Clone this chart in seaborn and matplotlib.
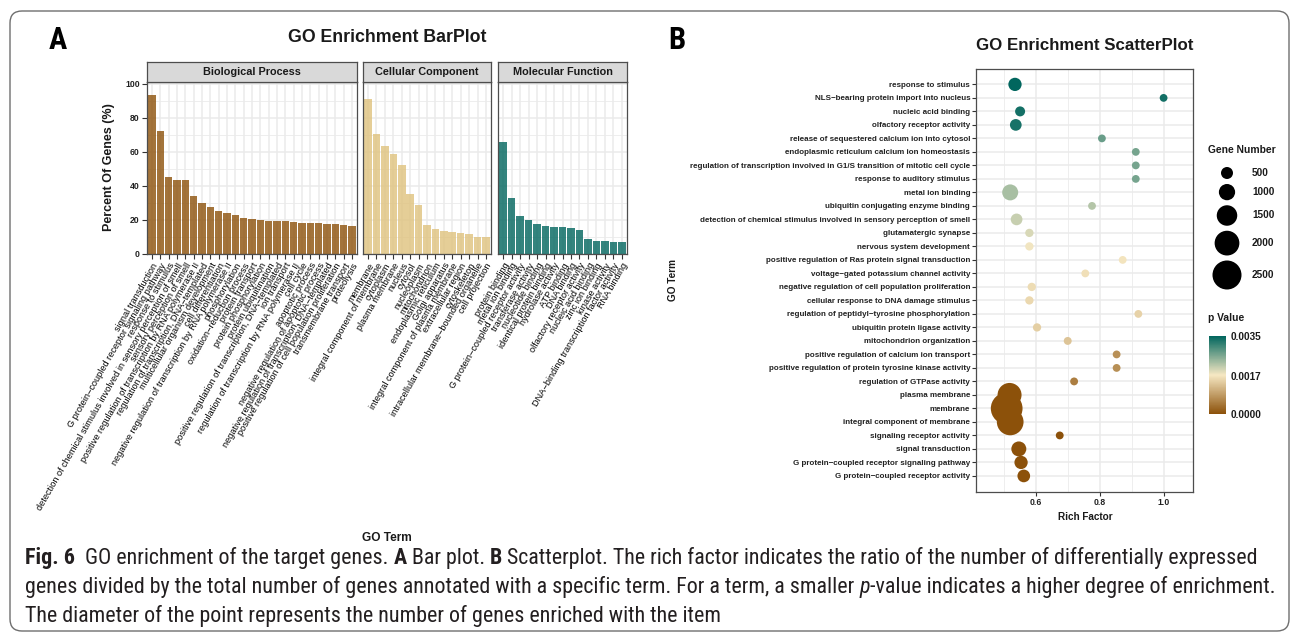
import matplotlib
matplotlib.use("Agg")
import numpy as np
import pandas as pd
import matplotlib.pyplot as plt
from matplotlib import font_manager
from matplotlib.colors import LinearSegmentedColormap, Normalize
from matplotlib.cm import ScalarMappable
from matplotlib.patches import FancyBboxPatch
from matplotlib.transforms import IdentityTransform
import seaborn as sns

# ---------------- Panel A: percent of genes per GO term ----------------
bp_terms = [
    "signal transduction",
    "G protein\u2212coupled receptor signaling pathway",
    "response to stimulus",
    "detection of chemical stimulus involved in sensory perception of smell",
    "sensory perception of smell",
    "positive regulation of transcription by RNA polymerase II",
    "regulation of transcription, DNA\u2212templated",
    "multicellular organism development",
    "cell differentiation",
    "negative regulation of transcription by RNA polymerase II",
    "phosphorylation",
    "oxidation\u2212reduction process",
    "protein transport",
    "protein phosphorylation",
    "protein ubiquitination",
    "positive regulation of transcription, DNA\u2212templated",
    "ion transport",
    "regulation of transcription by RNA polymerase II",
    "cell cycle",
    "apoptotic process",
    "negative regulation of apoptotic process",
    "negative regulation of transcription, DNA\u2212templated",
    "positive regulation of cell population proliferation",
    "transmembrane transport",
    "proteolysis",
]
bp_percent = [93.1, 72.0, 45.5, 43.3, 43.3, 34.3, 30.0, 27.6, 25.3, 24.1, 22.7,
              21.2, 20.6, 20.0, 19.4, 19.2, 19.2, 18.8, 18.0, 18.0, 18.0, 17.8,
              17.6, 17.3, 16.7]

cc_terms = [
    "membrane",
    "integral component of membrane",
    "cytoplasm",
    "plasma membrane",
    "nucleus",
    "cytosol",
    "nucleoplasm",
    "mitochondrion",
    "endoplasmic reticulum",
    "Golgi apparatus",
    "integral component of plasma membrane",
    "extracellular region",
    "cytoskeleton",
    "intracellular membrane\u2212bounded organelle",
    "cell projection",
]
cc_percent = [90.8, 70.6, 63.5, 58.6, 52.0, 35.3, 28.8, 16.9, 14.9, 13.7, 12.9,
              12.4, 11.8, 10.2, 10.2]

mf_terms = [
    "protein binding",
    "metal ion binding",
    "G protein\u2212coupled receptor activity",
    "transferase activity",
    "nucleotide binding",
    "identical protein binding",
    "hydrolase activity",
    "ATP binding",
    "DNA binding",
    "olfactory receptor activity",
    "nucleic acid binding",
    "zinc ion binding",
    "kinase activity",
    "DNA\u2212binding transcription factor activity",
    "RNA binding",
]
mf_percent = [65.7, 33.1, 22.5, 20.2, 17.8, 16.3, 15.7, 15.7, 15.1, 14.1, 8.8,
              7.6, 7.6, 7.3, 7.3]

# ---------------- Panel B: enrichment scatter ----------------
scatter_terms = [
    "response to stimulus",
    "NLS\u2212bearing protein import into nucleus",
    "nucleic acid binding",
    "olfactory receptor activity",
    "release of sequestered calcium ion into cytosol",
    "endoplasmic reticulum calcium ion homeostasis",
    "regulation of transcription involved in G1/S transition of mitotic cell cycle",
    "response to auditory stimulus",
    "metal ion binding",
    "ubiquitin conjugating enzyme binding",
    "detection of chemical stimulus involved in sensory perception of smell",
    "glutamatergic synapse",
    "nervous system development",
    "positive regulation of Ras protein signal transduction",
    "voltage\u2212gated potassium channel activity",
    "negative regulation of cell population proliferation",
    "cellular response to DNA damage stimulus",
    "regulation of peptidyl\u2212tyrosine phosphorylation",
    "ubiquitin protein ligase activity",
    "mitochondrion organization",
    "positive regulation of calcium ion transport",
    "positive regulation of protein tyrosine kinase activity",
    "regulation of GTPase activity",
    "plasma membrane",
    "membrane",
    "integral component of membrane",
    "signaling receptor activity",
    "signal transduction",
    "G protein\u2212coupled receptor signaling pathway",
    "G protein\u2212coupled receptor activity",
]
rich_factor = [0.535, 1.000, 0.551, 0.5375, 0.807, 0.913, 0.913, 0.913, 0.520,
               0.776, 0.540, 0.580, 0.580, 0.872, 0.755, 0.5875, 0.580, 0.921,
               0.604, 0.700, 0.853, 0.853, 0.720, 0.518, 0.509, 0.520, 0.675,
               0.547, 0.554, 0.5625]
gene_number = [650, 5, 265, 465, 6, 6, 6, 6, 970, 8, 465, 65, 65, 8, 10, 70, 65,
               8, 60, 20, 8, 8, 15, 1910, 2820, 2230, 12, 850, 650, 580]
p_value = [0.00350, 0.00337, 0.00335, 0.00333, 0.00275, 0.00266, 0.00266,
           0.00266, 0.00231, 0.00222, 0.00208, 0.00196, 0.00178, 0.00170,
           0.00165, 0.00160, 0.00157, 0.00150, 0.00145, 0.00133, 0.00073,
           0.00072, 0.00053, 0.00001, 0.00000, 0.00000, 0.00001, 0.00001,
           0.00001, 0.00001]

size_breaks = [500, 1000, 1500, 2000, 2500]
p_ticks = [0.0, 0.0017, 0.0035]

# ---------------- styling ----------------
W, H, DPI = 1295, 634, 100
BROWN, TAN, TEAL = "#8C510A", "#DFC27D", "#01665E"
CREAM = "#F6E8C3"
GRID = "#EBEBEB"
FRAME = "#4D4D4D"
TEXT = "#1A1A1A"

sns.set_style("white")
plt.rcParams["font.family"] = ["Liberation Sans", "DejaVu Sans"]
plt.rcParams["axes.unicode_minus"] = False


def pick_condensed_family():
    """Prefer a narrow sans face for the caption and panel letters."""
    names = {f.name for f in font_manager.fontManager.ttflist}
    for nm in ["Liberation Sans Narrow", "Roboto Condensed", "Open Sans Condensed",
               "DejaVu Sans Condensed", "Noto Sans Condensed"]:
        if nm in names:
            return nm, "normal"
    for f in font_manager.fontManager.ttflist:
        st = f.stretch
        if (isinstance(st, str) and "condensed" in st) or (isinstance(st, int) and st < 500):
            if "Sans" in f.name or "Roboto" in f.name or "Lato" in f.name:
                return f.name, "condensed"
    return "DejaVu Sans", "normal"


NARROW, NARROW_STRETCH = pick_condensed_family()

fig = plt.figure(figsize=(W / DPI, H / DPI), dpi=DPI)
fig.patch.set_facecolor("white")


def box(x0, y0, x1, y1):
    """Pixel box (top-left origin) -> figure fraction rect."""
    return [x0 / W, 1 - y1 / H, (x1 - x0) / W, (y1 - y0) / H]


def fx(x):
    return x / W


def fy(y):
    return 1 - y / H


def style_frame(ax):
    for s in ax.spines.values():
        s.set_visible(True)
        s.set_color(FRAME)
        s.set_linewidth(0.9)


# ---------------- Panel A: faceted bar chart ----------------
facets = [
    ("Biological Process", bp_terms, bp_percent, BROWN, 147, 357),
    ("Cellular Component", cc_terms, cc_percent, TAN, 363, 491),
    ("Molecular Function", mf_terms, mf_percent, TEAL, 498, 627),
]
PANEL_TOP, PANEL_BOT, STRIP_TOP = 82, 254, 62

for k, (name, terms, vals, color, x0, x1) in enumerate(facets):
    ax = fig.add_axes(box(x0, PANEL_TOP, x1, PANEL_BOT))
    df = pd.DataFrame({"term": terms, "pct": vals})
    sns.barplot(data=df, x="term", y="pct", color=color, saturation=1,
                alpha=0.8, width=0.9, linewidth=0, ax=ax, zorder=2)
    n = len(terms)
    ax.set_xlim(-0.6, n - 0.4)
    ax.set_ylim(0, 101)
    ax.set_yticks([0, 20, 40, 60, 80, 100])
    ax.set_yticks([10, 30, 50, 70, 90], minor=True)
    ax.set_xticks(range(n), labels=terms, rotation=60, ha="right", va="top",
                  rotation_mode="anchor", fontsize=6.6, color="black")
    ax.set_axisbelow(True)
    ax.grid(True, which="major", axis="both", color=GRID, lw=1.1, zorder=0)
    ax.grid(True, which="minor", axis="y", color=GRID, lw=0.6, zorder=0)
    ax.set_xlabel("")
    ax.set_ylabel("")
    ax.tick_params(axis="x", which="major", length=3.8, width=0.8, color="#333333",
                   pad=1.5, bottom=True)
    ax.tick_params(axis="y", which="minor", length=0)
    if k == 0:
        ax.tick_params(axis="y", which="major", length=3.8, width=0.8,
                       color="#333333", pad=1.5, left=True, labelsize=6.2)
        for lbl in ax.get_yticklabels():
            lbl.set_fontweight("bold")
            lbl.set_color("#222222")
    else:
        ax.tick_params(axis="y", which="major", left=False, labelleft=False)
    style_frame(ax)

    # facet strip
    sax = fig.add_axes(box(x0, STRIP_TOP, x1, PANEL_TOP))
    sax.set_facecolor("#D9D9D9")
    sax.set_xticks([])
    sax.set_yticks([])
    style_frame(sax)
    sax.text(0.5, 0.5, name, transform=sax.transAxes, ha="center", va="center",
             fontsize=7.8, fontweight="bold", color=TEXT)

fig.text(fx(387), fy(37), "GO Enrichment BarPlot", ha="center", va="center",
         fontsize=12.8, fontweight="bold", color=TEXT)
fig.text(fx(109), fy(167), "Percent Of Genes (%)", rotation=90, ha="center",
         va="center", fontsize=9, fontweight="bold", color=TEXT)
fig.text(fx(387), fy(538), "GO Term", ha="center", va="center", fontsize=8.6,
         fontweight="bold", color=TEXT)

# ---------------- Panel B: enrichment scatter ----------------
cmap = LinearSegmentedColormap.from_list("p_grad", [BROWN, CREAM, TEAL])
p_norm = Normalize(vmin=0.0, vmax=0.0035)


def diameter_px(n):
    return 7.75 + 0.0085 * n


def area_pt2(n):
    return (diameter_px(n) * 72.0 / DPI) ** 2


sdf = pd.DataFrame({"term": scatter_terms, "rich": rich_factor,
                    "genes": gene_number, "p": p_value})
size_map = {g: area_pt2(g) for g in sorted(set(gene_number))}

bx = fig.add_axes(box(976, 69, 1193, 492))
sns.scatterplot(data=sdf, x="rich", y="term", hue="p", hue_norm=p_norm,
                palette=cmap, size="genes", sizes=size_map, linewidth=0,
                alpha=1, legend=False, ax=bx, zorder=3)
nterm = len(scatter_terms)
bx.set_xlim(0.413, 1.092)
bx.set_ylim(nterm - 1 + 1.19, -1.14)
bx.set_xticks([0.6, 0.8, 1.0], labels=["0.6", "0.8", "1.0"], fontsize=6.2,
              fontweight="bold")
bx.set_xticks([0.5, 0.7, 0.9], minor=True)
bx.set_yticks(range(nterm), labels=scatter_terms, fontsize=5.8,
              fontweight="bold")
bx.set_axisbelow(True)
bx.grid(True, which="major", axis="both", color=GRID, lw=1.1, zorder=0)
bx.grid(True, which="minor", axis="x", color=GRID, lw=0.6, zorder=0)
bx.tick_params(axis="both", which="major", length=3.0, width=0.8,
               color="#333333", pad=1.2, bottom=True, left=True)
bx.tick_params(axis="x", which="minor", length=0)
for lbl in bx.get_xticklabels() + bx.get_yticklabels():
    lbl.set_color("#222222")
bx.set_xlabel("")
bx.set_ylabel("")
style_frame(bx)

fig.text(fx(1085), fy(45), "GO Enrichment ScatterPlot", ha="center",
         va="center", fontsize=12.2, fontweight="bold", color=TEXT)
fig.text(fx(1085), fy(517), "Rich Factor", ha="center", va="center",
         fontsize=7.2, fontweight="bold", color=TEXT)
fig.text(fx(673), fy(280), "GO Term", rotation=90, ha="center", va="center",
         fontsize=7.2, fontweight="bold", color=TEXT)

# size legend
lax = fig.add_axes(box(1196, 135, 1294, 300))
lax.set_xlim(1196, 1294)
lax.set_ylim(300, 135)
lax.axis("off")
lax.text(1208, 150, "Gene Number", ha="left", va="center", fontsize=7.4,
         fontweight="bold", color=TEXT)
centers = []
cy = 173.0
for i, g in enumerate(size_breaks):
    if i > 0:
        cy += (diameter_px(size_breaks[i - 1]) + diameter_px(g)) / 2 + 5
    centers.append(cy)
lax.scatter([1227] * len(size_breaks), centers,
            s=[area_pt2(g) for g in size_breaks], color="black", linewidths=0)
for g, c in zip(size_breaks, centers):
    lax.text(1252, c, str(g), ha="left", va="center", fontsize=7.2,
             fontweight="bold", color=TEXT)

# colour bar for p value
fig.text(fx(1208), fy(318), "p Value", ha="left", va="center", fontsize=7.4,
         fontweight="bold", color=TEXT)
cax = fig.add_axes(box(1209, 336, 1226, 414))
cb = fig.colorbar(ScalarMappable(norm=p_norm, cmap=cmap), cax=cax,
                  ticks=p_ticks)
cb.outline.set_visible(False)
cb.ax.set_yticklabels([f"{t:.4f}" for t in p_ticks], fontsize=7.2,
                      fontweight="bold", color=TEXT)
cb.ax.tick_params(axis="y", which="major", direction="in", length=3,
                  width=0.8, color="white", left=True, right=True,
                  labelleft=False, labelright=True, pad=3)
cb.ax.minorticks_off()

# ---------------- panel letters and frame ----------------
for letter, xc in (("A", 58), ("B", 677)):
    fig.text(fx(xc), fy(40), letter, ha="center", va="center", fontsize=22,
             fontweight="bold", family=[NARROW, "DejaVu Sans"],
             fontstretch=NARROW_STRETCH, color="black")

frame = FancyBboxPatch((10, H - 631), 1279, 620,
                       boxstyle="round,pad=0,rounding_size=12",
                       transform=IdentityTransform(), facecolor="none",
                       edgecolor="#6E6E6E", linewidth=1.0)
fig.patches.append(frame)

# ---------------- caption ----------------
CAP_COLOR = "#231F20"
caption_lines = [
    [("Fig. 6", "bold", "normal"),
     ("  GO enrichment of the target genes. ", "normal", "normal"),
     ("A", "bold", "normal"),
     (" Bar plot. ", "normal", "normal"),
     ("B", "bold", "normal"),
     (" Scatterplot. The rich factor indicates the ratio of the number of "
      "differentially expressed", "normal", "normal")],
    [("genes divided by the total number of genes annotated with a specific "
      "term. For a term, a smaller ", "normal", "normal"),
     ("p", "normal", "italic"),
     ("-value indicates a higher degree of enrichment.", "normal", "normal")],
    [("The diameter of the point represents the number of genes enriched "
      "with the item", "normal", "normal")],
]
cap_family = [NARROW, "DejaVu Sans"]
renderer = fig.canvas.get_renderer()


def measure(s, size, weight="normal", style="normal"):
    t = fig.text(0, 0, s, fontsize=size, fontweight=weight, fontstyle=style,
                 family=cap_family, fontstretch=NARROW_STRETCH)
    w = t.get_window_extent(renderer).width
    t.remove()
    return w


def layout_runs(runs, size):
    space = measure("a a", size) - measure("aa", size)
    pieces, x = [], 0.0
    for text, weight, style in runs:
        core = text.strip(" ")
        lead = len(text) - len(text.lstrip(" "))
        trail = len(text) - len(text.rstrip(" "))
        x += lead * space
        pieces.append((x, core, weight, style))
        x += measure(core, size, weight, style) + trail * space
    return pieces, x


base = 14.0
_, w2 = layout_runs(caption_lines[1], base)
cap_size = base * (1262.0 / w2)
for line, base_y in zip(caption_lines, [564, 593, 622]):
    pieces, _ = layout_runs(line, cap_size)
    for x, core, weight, style in pieces:
        fig.text(fx(25 + x), fy(base_y), core, fontsize=cap_size,
                 fontweight=weight, fontstyle=style, family=cap_family,
                 fontstretch=NARROW_STRETCH, color=CAP_COLOR, ha="left",
                 va="baseline")

fig.savefig("out.png", dpi=DPI, facecolor="white")
